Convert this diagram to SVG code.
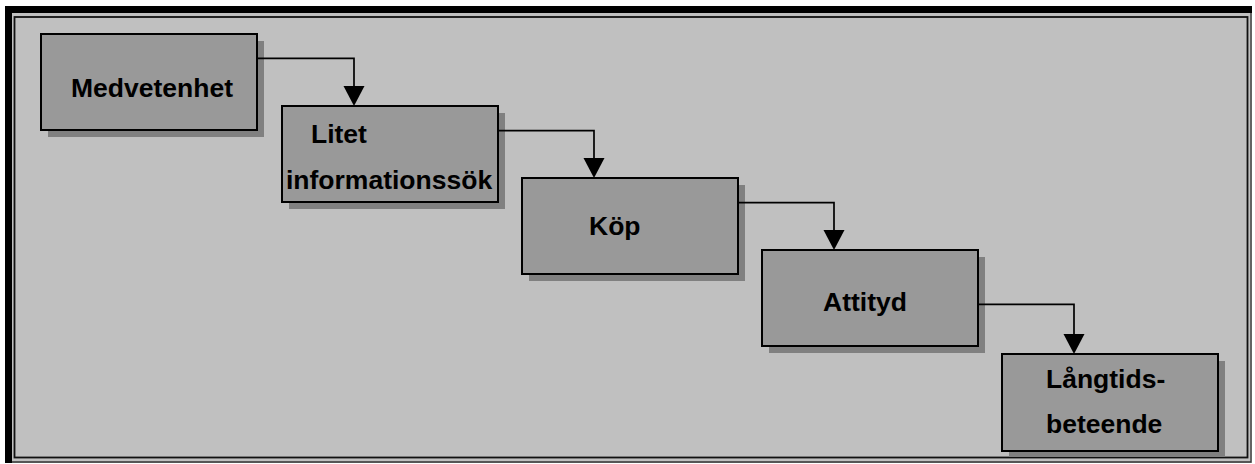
<svg xmlns="http://www.w3.org/2000/svg" width="1255" height="464" viewBox="0 0 1255 464">
  <defs>
    <style>
      .shadow { fill: #808080; stroke: none; }
      .box { fill: #999999; stroke: #000; stroke-width: 2; }
      .lbl { font-family: "Liberation Sans", Arial, sans-serif; font-weight: bold; font-size: 26.5px; fill: #000; }
      .conn { fill: none; stroke: #000; stroke-width: 1.7; }
    </style>
    <marker id="arr" markerUnits="userSpaceOnUse" markerWidth="21" markerHeight="22" refX="0" refY="10.5" orient="auto" viewBox="0 0 21 21">
      <path d="M0,0 L20,10.5 L0,21 Z" fill="#000"/>
    </marker>
  </defs>

  <g id="frame">
    <rect x="0" y="0" width="1255" height="464" fill="#ffffff"/>
    <rect x="5" y="6" width="1247" height="457" fill="#c0c0c0"/>
    <rect x="5" y="6" width="1247" height="7" fill="#000"/>
    <rect x="5" y="6" width="7" height="457" fill="#000"/>
    <path d="M1251,13 V462 H12" fill="none" stroke="#333" stroke-width="1.3"/>
    <rect x="14.5" y="17" width="1233" height="440.5" fill="none" stroke="#111" stroke-width="1.8"/>
  </g>

  <g id="node-medvetenhet">
    <rect class="shadow" x="48" y="41" width="216" height="96"/>
    <rect class="box" x="41" y="34" width="216" height="96"/>
    <text class="lbl" x="71" y="97">Medvetenhet</text>
  </g>

  <g id="node-litet">
    <rect class="shadow" x="289" y="113" width="216" height="96"/>
    <rect class="box" x="282" y="106" width="216" height="96"/>
    <text class="lbl" x="311" y="143">Litet</text>
    <text class="lbl" x="286" y="189">informationssök</text>
  </g>

  <g id="node-kop">
    <rect class="shadow" x="529" y="185" width="216" height="96"/>
    <rect class="box" x="522" y="178" width="216" height="96"/>
    <text class="lbl" x="589" y="235">Köp</text>
  </g>

  <g id="node-attityd">
    <rect class="shadow" x="769" y="257" width="216" height="96"/>
    <rect class="box" x="762" y="250" width="216" height="96"/>
    <text class="lbl" x="823" y="311">Attityd</text>
  </g>

  <g id="node-langtids">
    <rect class="shadow" x="1009" y="361" width="216" height="96"/>
    <rect class="box" x="1002" y="354" width="216" height="97"/>
    <text class="lbl" x="1046" y="388">Långtids-</text>
    <text class="lbl" x="1046" y="433">beteende</text>
  </g>

  <g id="connectors">
    <path class="conn" d="M258,58.3 H354 V86" marker-end="url(#arr)"/>
    <path class="conn" d="M498,130.7 H594 V158" marker-end="url(#arr)"/>
    <path class="conn" d="M738,202.7 H834 V230" marker-end="url(#arr)"/>
    <path class="conn" d="M978,304.3 H1074 V334" marker-end="url(#arr)"/>
  </g>
</svg>
